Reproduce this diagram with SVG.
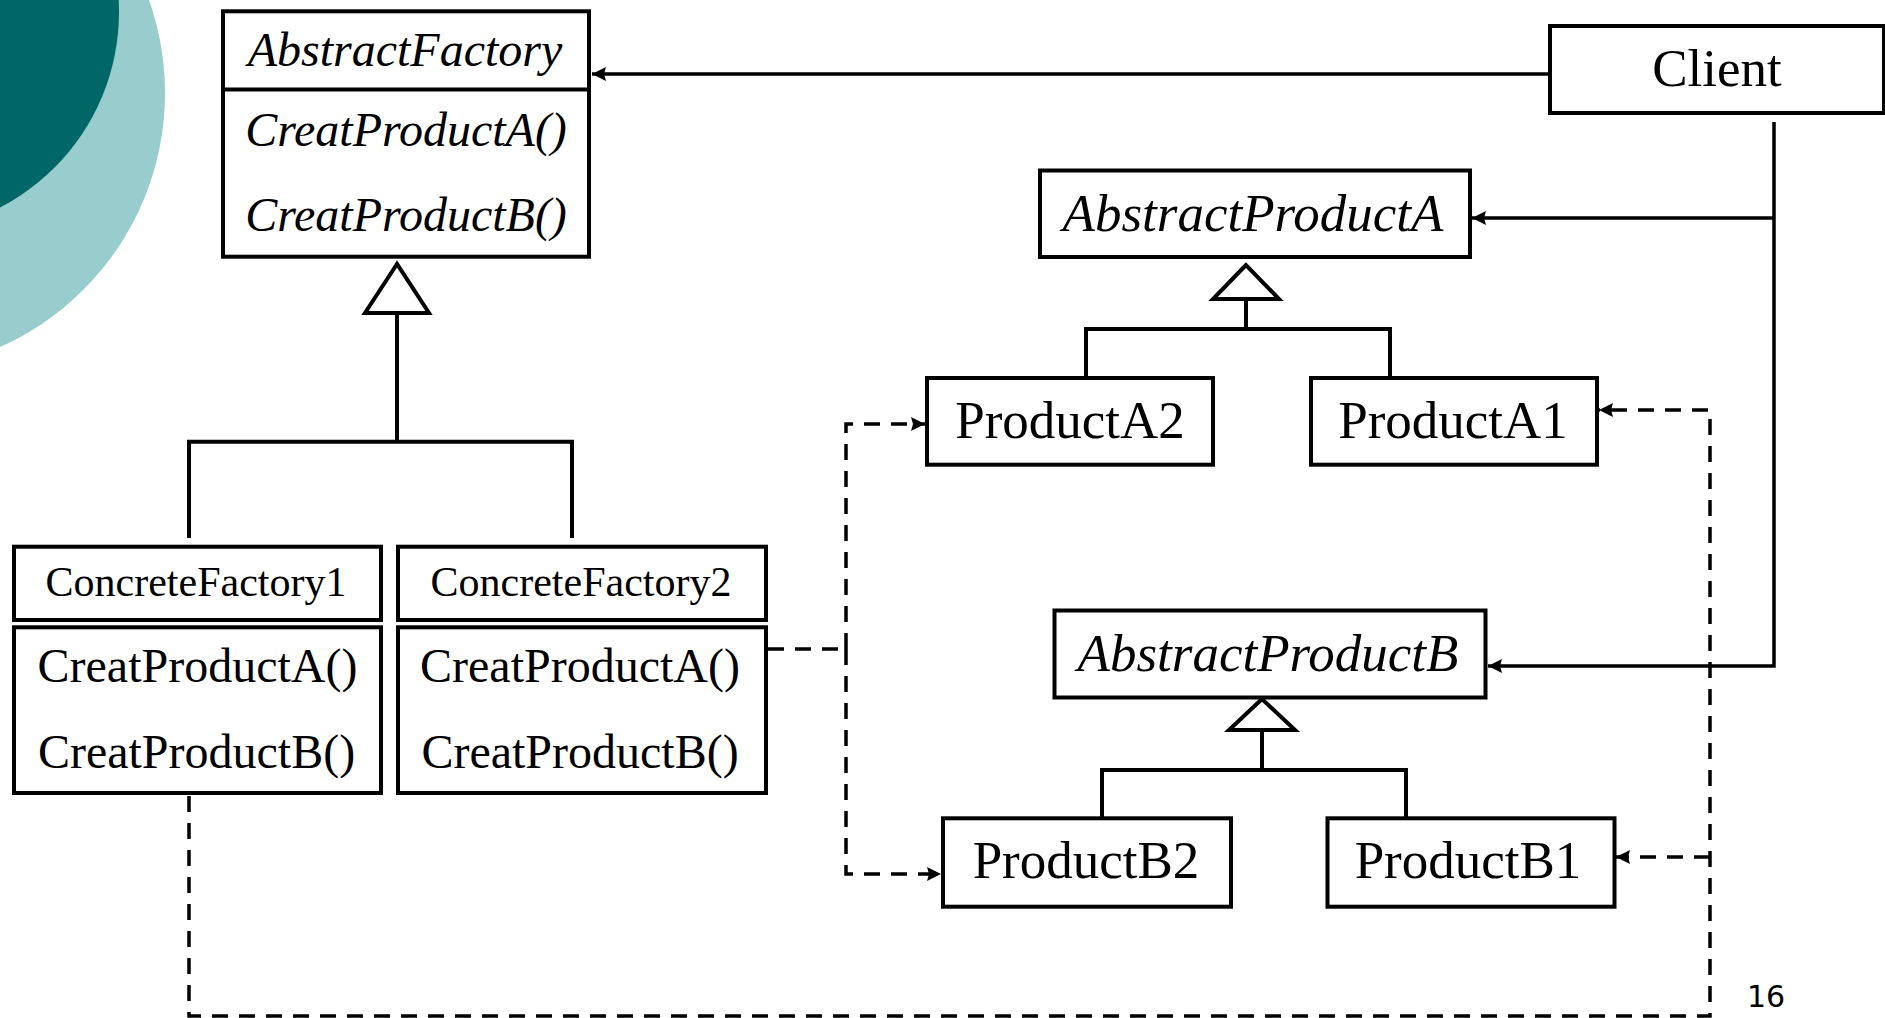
<svg xmlns="http://www.w3.org/2000/svg" width="1885" height="1018" viewBox="0 0 1885 1018">
<style>
.box{fill:#fff;stroke:#000;stroke-width:4}
.t{font-family:"Liberation Serif","Times New Roman",serif;fill:#000;text-anchor:middle}
.it{font-style:italic}
.gen{fill:none;stroke:#000;stroke-width:4}
.tri{fill:#fff;stroke:#000;stroke-width:4;stroke-linejoin:miter}
.sol{fill:none;stroke:#000;stroke-width:3.5}
.dash{fill:none;stroke:#000;stroke-width:3.5;stroke-dasharray:16 11}
</style>
<defs>
<marker id="arr" viewBox="0 0 14 14" markerWidth="14" markerHeight="14" refX="14" refY="7" orient="auto" markerUnits="userSpaceOnUse">
<path d="M0,0 L14,7 L0,14 L2,7 z" fill="#000"/>
</marker>
</defs>
<rect width="1885" height="1018" fill="#fff"/>
<g id="decoration">
<circle cx="-113" cy="93" r="278" fill="#99CCCC"/>
<circle cx="-101" cy="12" r="220" fill="#006666"/>
</g>
<g id="connectors">
<path class="sol" d="M1548,74 H592" marker-end="url(#arr)"/>
<path class="sol" d="M1774,122 V666 H1488" marker-end="url(#arr)"/>
<path class="sol" d="M1774,218 H1472" marker-end="url(#arr)"/>
<path class="gen" d="M397,313 V441.7 M189,441.7 H572 M189,439.7 V538 M572,439.7 V538"/>
<polygon class="tri" points="397,264 365,313 429,313"/>
<path class="gen" d="M1246,299 V329 M1086,329 H1390 M1086,327 V377 M1390,327 V377"/>
<polygon class="tri" points="1246,265 1213,299 1279,299"/>
<path class="gen" d="M1262,730 V770 M1102,770 H1406 M1102,768 V817 M1406,768 V817"/>
<polygon class="tri" points="1262,699 1229,730 1295,730"/>
<path class="dash" d="M768,649 H846"/>
<path class="dash" d="M846,649 V424 H925" marker-end="url(#arr)"/>
<path class="dash" d="M846,649 V874 H941" marker-end="url(#arr)"/>
<path class="dash" d="M189,796 V1016 H1710 V410 H1599" marker-end="url(#arr)"/>
<path class="dash" d="M1710,857 H1616" marker-end="url(#arr)"/>
</g>
<g id="AbstractFactory">
<rect class="box" x="223" y="11.3" width="366" height="245.4"/>
<line x1="223" y1="89.5" x2="589" y2="89.5" stroke="#000" stroke-width="4"/>
<text class="t it" x="405" y="66" font-size="48">AbstractFactory</text>
<text class="t it" x="406" y="146" font-size="48">CreatProductA()</text>
<text class="t it" x="406" y="231" font-size="48">CreatProductB()</text>
</g>
<g id="Client">
<rect class="box" x="1550" y="26" width="334" height="87"/>
<text class="t" x="1717" y="86" font-size="53">Client</text>
</g>
<g id="AbstractProductA">
<rect class="box" x="1040" y="170.5" width="430" height="86.5"/>
<text class="t it" x="1253" y="230.7" font-size="53">AbstractProductA</text>
</g>
<g id="ProductA2">
<rect class="box" x="927" y="378" width="286" height="86.7"/>
<text class="t" x="1070" y="437.7" font-size="53">ProductA2</text>
</g>
<g id="ProductA1">
<rect class="box" x="1311" y="378" width="286" height="86.7"/>
<text class="t" x="1453" y="437.7" font-size="53">ProductA1</text>
</g>
<g id="AbstractProductB">
<rect class="box" x="1054.5" y="610.5" width="431" height="87"/>
<text class="t it" x="1268" y="670.7" font-size="53">AbstractProductB</text>
</g>
<g id="ProductB2">
<rect class="box" x="943" y="818.3" width="288" height="88.4"/>
<text class="t" x="1086" y="878.3" font-size="53">ProductB2</text>
</g>
<g id="ProductB1">
<rect class="box" x="1327.5" y="818.3" width="287" height="88.4"/>
<text class="t" x="1468" y="878.3" font-size="53">ProductB1</text>
</g>
<g id="ConcreteFactory1">
<rect class="box" x="14" y="546.7" width="367" height="73.3"/>
<rect class="box" x="14" y="627.3" width="367" height="165.7"/>
<text class="t" x="196" y="595.7" font-size="42">ConcreteFactory1</text>
<text class="t" x="197.5" y="681.7" font-size="48">CreatProductA()</text>
<text class="t" x="196.5" y="768.3" font-size="48">CreatProductB()</text>
</g>
<g id="ConcreteFactory2">
<rect class="box" x="398" y="546.7" width="368" height="73.3"/>
<rect class="box" x="398" y="627.3" width="368" height="165.7"/>
<text class="t" x="581" y="595.7" font-size="42">ConcreteFactory2</text>
<text class="t" x="580" y="681.7" font-size="48">CreatProductA()</text>
<text class="t" x="580" y="768.3" font-size="48">CreatProductB()</text>
</g>
<text x="1747" y="1007" font-family="'DejaVu Sans',sans-serif" font-size="30" fill="#000">16</text>
</svg>
